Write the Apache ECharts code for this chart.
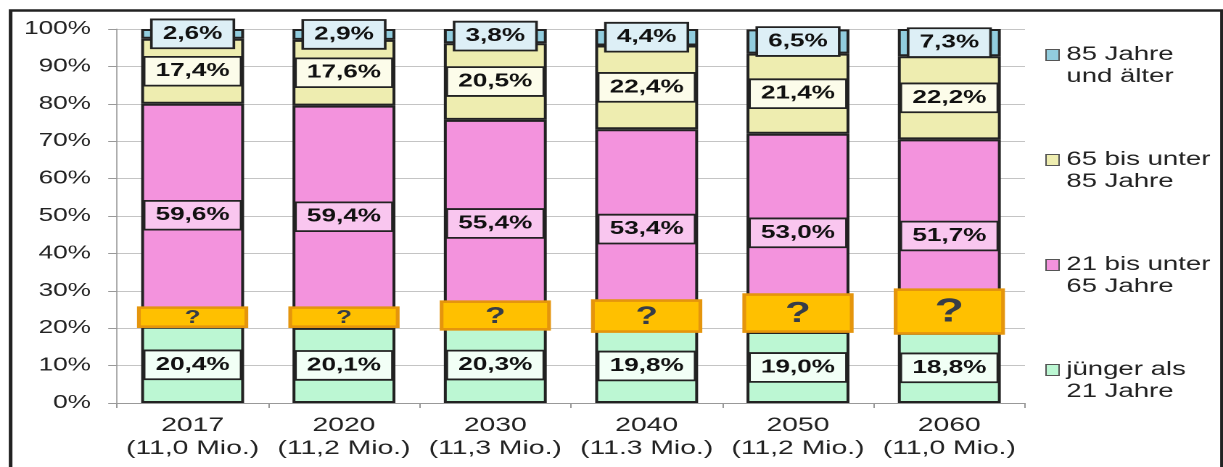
<!DOCTYPE html>
<html>
<head>
<meta charset="utf-8">
<script src="https://cdn.jsdelivr.net/npm/echarts@6/dist/echarts.min.js"></script>
<style>
  html, body { margin: 0; padding: 0; background: #fff; overflow: hidden; }
  /* the source picture is stretched sideways, so the chart is too */
  #chart { width: 843px; height: 467px; transform: scaleX(1.4508); transform-origin: 0 0; }
</style>
</head>
<body>
<div id="chart"></div>
<script>
// Jahre und Bevölkerung
var years = ["2017", "2020", "2030", "2040", "2050", "2060"];
var popMio = ["11,0", "11,2", "11,3", "11.3", "11,2", "11,0"];

// Anteile in %
var under21 = [20.4, 20.1, 20.3, 19.8, 19.0, 18.8];
var age21to65 = [59.6, 59.4, 55.4, 53.4, 53.0, 51.7];
var age65to85 = [17.4, 17.6, 20.5, 22.4, 21.4, 22.2];
var over85 = [2.6, 2.9, 3.8, 4.4, 6.5, 7.3];

// "?"-Kästen (unterer / oberer Rand in %)
var qLow = [20.4, 20.4, 19.7, 19.1, 19.1, 18.6];
var qHigh = [25.5, 25.5, 27.1, 27.4, 29.0, 30.3];

var yTicks = [0, 10, 20, 30, 40, 50, 60, 70, 80, 90, 100];

var font = "Liberation Sans, Arial, sans-serif";
var myChart = echarts.init(document.getElementById("chart"), null, { devicePixelRatio: 2 });

const fmt = (v) => v.toFixed(1).replace(".", ",") + "%";

const segLabel = (bg) => ({
  show: true,
  position: "inside",
  formatter: (p) => fmt(p.value),
  fontFamily: font,
  fontSize: 18,
  fontWeight: "bold",
  color: "#111",
  backgroundColor: bg,
  borderColor: "#222",
  borderWidth: 1.8,
  padding: [5, 7, 4, 7],
});

const barSeries = (name, data, color, labelBg) => ({
  name: name,
  type: "bar",
  stack: "all",
  barWidth: "68%",
  data: data,
  itemStyle: { color: color, borderColor: "#222", borderWidth: 2 },
  label: segLabel(labelBg),
  emphasis: { disabled: true },
});

var qData = years.map((y, i) => [i, qLow[i], qHigh[i]]);

var option = {
  animation: false,
  grid: { left: 80.6, right: 136.5, top: 29, bottom: 64 },
  legend: {
    orient: "vertical",
    left: 720.5,
    top: 22,
    padding: 0,
    itemGap: 39,
    itemWidth: 9,
    itemHeight: 11,
    icon: "rect",
    itemStyle: { borderColor: "#555", borderWidth: 1 },
    formatter: (name) => "\n" + name,
    textStyle: {
      fontFamily: font,
      fontSize: 19,
      color: "#222",
      lineHeight: 22,
    },
    data: [
      "85 Jahre\nund älter",
      "65 bis unter\n85 Jahre",
      "21 bis unter\n65 Jahre",
      "jünger als\n21 Jahre",
    ],
  },
  xAxis: {
    type: "category",
    data: years.map((y, i) => y + "\n(" + popMio[i] + " Mio.)"),
    axisLine: { lineStyle: { color: "#999", width: 1 } },
    axisTick: { show: true, length: 5, lineStyle: { color: "#999" } },
    axisLabel: {
      interval: 0,
      fontFamily: font,
      fontSize: 19.5,
      color: "#222",
      lineHeight: 23,
      margin: 11,
    },
  },
  yAxis: {
    type: "value",
    min: yTicks[0],
    max: yTicks[yTicks.length - 1],
    interval: 10,
    axisLine: { show: true, lineStyle: { color: "#999", width: 0.8 } },
    axisTick: { show: true, length: 6, lineStyle: { color: "#999" } },
    splitLine: { lineStyle: { color: "#C4C4C4", width: 1 } },
    axisLabel: {
      formatter: "{value}%",
      fontFamily: font,
      fontSize: 18,
      color: "#222",
      margin: 18,
    },
  },
  graphic: [
    {
      type: "rect",
      left: 4.8,
      top: 8,
      shape: { width: 835, height: 480 },
      style: { fill: "none", stroke: "#222", lineWidth: 2.5 },
      silent: true,
    },
  ],
  series: [
    barSeries("jünger als\n21 Jahre", under21, "#BCF7D3", "#F2FFF6"),
    barSeries("21 bis unter\n65 Jahre", age21to65, "#F393DD", "#F9C6EF"),
    barSeries("65 bis unter\n85 Jahre", age65to85, "#EEEDB0", "#FCFCEA"),
    barSeries("85 Jahre\nund älter", over85, "#92CDDE", "#DDEFF6"),
    {
      name: "?",
      type: "custom",
      z: 10,
      data: qData,
      renderItem: function (params, api) {
        var top = api.coord([api.value(0), api.value(2)]);
        var bot = api.coord([api.value(0), api.value(1)]);
        var w = api.size([1, 0])[0] * 0.71;
        var h = bot[1] - top[1];
        // Fragezeichen wächst mit dem Kasten
        var fs = Math.round(6 + h * 0.62);
        return {
          type: "group",
          children: [
            {
              type: "rect",
              shape: { x: top[0] - w / 2, y: top[1], width: w, height: h },
              style: { fill: "#FFC000", stroke: "#E5950C", lineWidth: 2.6 },
            },
            {
              type: "text",
              style: {
                text: "?",
                x: top[0],
                y: top[1] + h / 2 + 1,
                align: "center",
                verticalAlign: "middle",
                font: "bold " + fs + "px " + font,
                fill: "#363D48",
              },
            },
          ],
        };
      },
    },
  ],
};
myChart.setOption(option, true);
</script>
</body>
</html>
